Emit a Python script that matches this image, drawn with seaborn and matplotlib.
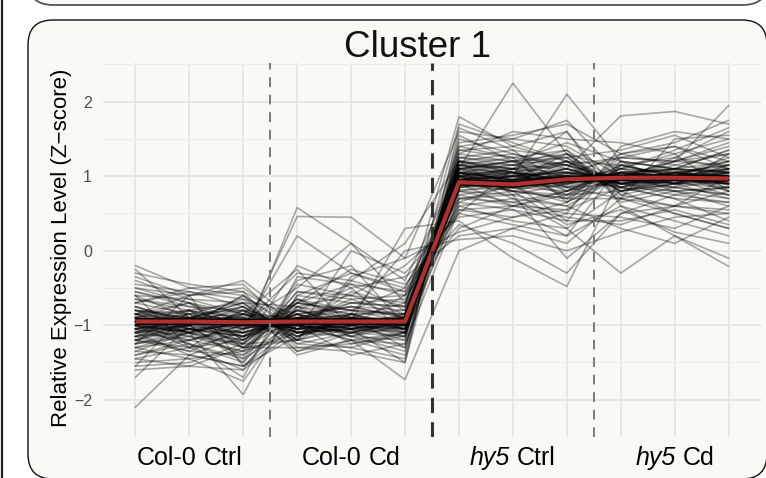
import numpy as np
import pandas as pd
import matplotlib
matplotlib.use("Agg")
import matplotlib.pyplot as plt
import seaborn as sns
from matplotlib.patches import FancyBboxPatch
from matplotlib.transforms import IdentityTransform
from matplotlib.lines import Line2D

# ---- data -------------------------------------------------------------
samples = ["Col-0 Ctrl 1", "Col-0 Ctrl 2", "Col-0 Ctrl 3",
           "Col-0 Cd 1", "Col-0 Cd 2", "Col-0 Cd 3",
           "hy5 Ctrl 1", "hy5 Ctrl 2", "hy5 Ctrl 3",
           "hy5 Cd 1", "hy5 Cd 2", "hy5 Cd 3"]
group_genotypes = ["Col-0", "Col-0", "hy5", "hy5"]
group_treatments = ["Ctrl", "Cd", "Ctrl", "Cd"]
italic_genotypes = ["hy5"]
group_label_pos = [1, 4, 7, 10]
group_breaks = [2.5, 5.5, 8.5]

# z-scored expression of the genes in cluster 1 (one row per gene)
gene_z = [
    [-2.10, -1.40, -1.55, -1.00, -1.20, -1.10, 0.95, 0.80, 0.70, 1.05, 1.10, 0.90],
    [-0.20, -0.50, -0.45, -1.10, -0.90, -1.30, 1.20, 1.05, 0.95, 0.85, 1.00, 1.25],
    [-0.35, -0.60, -0.40, -0.95, -0.70, -0.75, 1.80, 1.40, 1.20, 0.90, 0.80, 0.60],
    [-0.55, -0.70, -1.20, 0.58, 0.10, -0.40, 1.10, 2.25, 1.30, 0.85, 0.70, 0.40],
    [-1.00, -1.10, -1.93, -0.60, -0.30, -0.50, 0.90, 1.00, 2.10, 1.20, 0.90, 0.70],
    [-1.20, -1.30, -1.10, 0.46, 0.45, -0.10, 1.60, 1.50, 1.40, 1.00, 1.20, 1.95],
    [-0.80, -0.90, -0.75, -1.40, -1.20, -1.73, 0.00, 0.30, 0.50, 1.40, 1.60, 1.50],
    [-1.60, -1.55, -1.30, -0.90, -0.95, 0.30, 0.40, -0.10, -0.48, 1.00, 0.85, 1.30],
    [-1.10, -1.00, -1.45, -0.40, -0.20, -1.00, 1.00, 0.95, 1.10, 1.81, 1.87, 1.70],
    [-0.70, -0.85, -1.30, -0.80, -0.50, -1.10, 0.60, 0.70, 0.30, -0.30, 0.20, -0.21],
    [-0.90, -1.00, -0.85, -1.05, -0.95, -1.00, 0.95, 0.90, 1.00, 1.00, 0.95, 1.00],
    [-1.05, -0.95, -1.10, -0.90, -1.00, -0.95, 0.90, 0.85, 0.95, 0.98, 1.00, 0.95],
    [-0.85, -0.80, -1.00, -0.95, -0.85, -1.05, 1.05, 1.00, 0.90, 1.05, 1.10, 1.05],
    [-1.15, -1.05, -1.20, -0.80, -0.90, -0.95, 0.85, 0.95, 1.10, 0.90, 0.95, 0.90],
    [-0.75, -0.95, -0.90, -1.10, -1.05, -1.00, 1.15, 1.10, 1.05, 0.95, 0.90, 1.10],
    [-1.25, -1.10, -0.95, -1.00, -1.10, -1.05, 0.80, 0.75, 0.90, 1.05, 1.00, 0.85],
    [-0.95, -0.85, -0.80, -1.15, -0.90, -0.90, 1.10, 0.90, 1.20, 0.95, 1.05, 1.15],
    [-1.00, -1.20, -1.35, -0.70, -0.80, -0.95, 0.70, 0.80, 0.75, 1.10, 1.05, 0.80],
    [-0.65, -0.75, -0.95, -1.00, -1.10, -1.15, 1.25, 1.15, 1.00, 0.90, 1.00, 1.20],
    [-1.30, -1.20, -1.05, -0.85, -0.75, -0.90, 0.95, 1.05, 1.15, 0.95, 0.85, 0.75],
    [-0.80, -1.05, -1.15, -0.85, -1.00, -1.10, 1.00, 1.10, 0.85, 1.00, 1.15, 1.30],
    [-1.10, -0.90, -0.70, -1.20, -1.05, -0.85, 0.75, 0.60, 0.55, 1.15, 1.25, 1.10],
    [-0.90, -0.70, -0.85, -0.95, -1.15, -1.20, 1.30, 1.20, 1.25, 0.85, 0.70, 0.65],
    [-1.40, -1.25, -1.50, -0.75, -0.85, -0.80, 1.05, 0.95, 1.30, 0.80, 0.95, 1.05],
    [-0.60, -0.65, -0.70, -1.25, -1.30, -1.10, 0.65, 0.55, 0.40, 1.20, 1.10, 1.35],
    [-1.20, -0.95, -1.00, -0.90, -0.70, -0.75, 1.20, 1.30, 1.15, 0.95, 1.05, 0.95],
    [-0.95, -1.15, -1.25, -0.65, -0.95, -1.00, 0.90, 1.05, 0.95, 1.10, 0.90, 0.85],
    [-1.05, -0.80, -0.90, -1.05, -0.85, -0.85, 1.00, 0.70, 0.60, 1.00, 1.20, 1.40],
    [-0.85, -1.10, -1.40, -0.55, -0.60, -0.70, 1.40, 1.25, 1.35, 0.90, 1.00, 0.80],
    [-1.35, -1.40, -1.15, -1.00, -1.20, -1.25, 0.55, 0.45, 0.65, 1.05, 0.80, 0.70],
    [-0.50, -0.60, -0.55, -1.30, -1.25, -1.15, 1.35, 1.40, 1.60, 0.75, 0.60, 0.50],
    [-1.15, -1.00, -0.60, -1.35, -1.10, -0.90, 0.85, 1.00, 1.05, 1.25, 1.40, 1.20],
    [-0.70, -0.55, -0.75, -1.10, -0.95, -1.00, 1.10, 1.20, 0.80, 0.95, 1.25, 1.60],
    [-1.00, -1.30, -1.60, -0.60, -0.70, -0.65, 0.50, 0.35, 0.20, 1.15, 1.00, 0.95],
    [-1.25, -1.05, -0.85, -1.05, -1.10, -1.30, 1.05, 0.80, 0.70, 0.70, 0.50, 0.30],
    [-0.95, -0.90, -1.05, -0.90, -0.75, -0.80, 0.95, 1.00, 1.05, 1.00, 0.95, 0.90],
    [-1.05, -1.00, -0.95, -1.00, -1.05, -1.00, 0.90, 0.95, 0.95, 0.97, 1.00, 1.00],
    [-0.90, -0.95, -1.00, -1.00, -0.95, -1.10, 1.00, 0.90, 1.00, 0.95, 0.95, 1.05],
    [-1.00, -0.90, -0.90, -1.05, -1.00, -0.90, 0.85, 0.90, 1.05, 1.00, 1.05, 0.95],
    [-0.80, -0.85, -1.10, -0.95, -1.05, -0.95, 1.05, 0.85, 0.90, 1.05, 0.90, 1.00],
    [-1.10, -1.20, -1.00, -0.30, -0.40, -0.60, 0.60, 0.40, 0.30, 0.80, 0.50, 0.30],
    [-0.90, -0.80, -1.25, -0.20, -0.50, -0.35, 0.20, 0.30, 0.10, 0.70, 0.60, 0.80],
    [-1.30, -1.10, -0.95, -0.50, 0.10, -0.70, 0.90, 0.60, 0.45, 0.35, 0.60, 0.55],
    [-0.75, -1.00, -1.50, -0.45, -0.60, -0.20, 0.45, 0.55, 0.20, 0.60, 0.40, 0.20],
    [-1.20, -1.35, -1.05, 0.20, -0.30, -0.55, 0.70, 0.75, 0.60, 0.30, 0.10, 0.45],
    [-0.60, -0.90, -1.15, -0.70, -0.25, -0.45, 0.35, 0.10, -0.30, 0.50, 0.75, 0.65],
    [-1.45, -1.30, -1.20, -0.65, -0.80, -0.50, 0.80, 0.65, 0.50, 0.45, 0.30, 0.60],
    [-1.05, -1.25, -1.70, -0.35, -0.45, -0.80, 1.00, 0.80, 0.35, 0.55, 0.25, 0.10],
    [-0.85, -0.70, -0.95, -1.20, -0.35, -0.10, 0.25, 0.45, 0.55, 0.85, 0.95, 0.75],
    [-1.50, -1.45, -1.35, -0.55, -0.65, -0.90, 0.65, 0.90, 0.40, 0.40, 0.55, 0.35],
    [-1.55, -1.50, -1.25, -1.20, -1.30, -1.45, 1.50, 1.30, 1.10, 0.95, 1.20, 1.45],
    [-1.30, -1.45, -1.75, -0.75, -1.15, -1.35, 1.45, 1.55, 1.70, 1.30, 1.40, 1.10],
    [-1.20, -1.05, -1.30, -1.30, -1.35, -1.50, 1.25, 1.35, 1.25, 1.35, 1.55, 1.25],
    [-1.40, -1.20, -1.00, -1.15, -1.00, -1.20, 1.55, 1.20, 1.45, 1.20, 1.10, 1.35],
    [-1.10, -1.40, -1.55, -0.85, -1.25, -1.10, 1.30, 1.60, 1.50, 1.45, 1.30, 1.50],
    [-0.95, -1.25, -1.45, -1.00, -1.40, -1.25, 1.15, 1.10, 1.30, 1.10, 1.35, 1.65],
    [-1.25, -1.15, -1.35, -1.10, -1.15, -1.00, 1.70, 1.45, 1.20, 1.15, 1.00, 1.20],
    [-1.35, -1.10, -0.80, -1.35, -1.20, -1.40, 1.40, 1.50, 1.75, 1.00, 0.95, 1.15],
    [-1.15, -1.35, -1.40, -0.95, -1.05, -1.15, 1.20, 1.05, 1.00, 1.30, 1.45, 1.75],
    [-1.45, -1.55, -1.60, -1.05, -0.95, -1.15, 1.35, 1.25, 1.15, 1.25, 1.20, 1.30],
    [-0.45, -0.55, -0.65, -0.85, -0.75, -0.90, 0.95, 0.85, 0.80, 1.05, 1.00, 1.10],
    [-0.55, -0.75, -0.80, -0.95, -0.65, -0.60, 0.80, 0.90, 0.85, 0.90, 0.85, 0.75],
    [-0.40, -0.65, -0.85, -0.90, -0.80, -0.85, 1.05, 0.95, 1.00, 0.85, 0.80, 0.85],
    [-0.70, -0.50, -0.60, -1.05, -0.55, -0.75, 0.75, 0.85, 0.65, 1.00, 1.10, 1.00],
    [-0.65, -0.80, -0.70, -0.75, -0.60, -0.85, 1.00, 0.95, 0.75, 0.80, 0.90, 0.95],
    [-0.30, -0.45, -0.55, -0.95, -0.85, -1.00, 0.70, 0.65, 0.80, 1.15, 1.00, 0.90],
    [-0.85, -0.60, -0.50, -1.00, -0.90, -0.70, 0.90, 0.80, 0.95, 0.90, 0.75, 0.85],
    [-0.50, -0.70, -1.05, -0.70, -0.45, -0.55, 0.55, 0.60, 0.75, 0.95, 1.05, 1.15],
    [-0.95, -1.00, -0.95, -0.95, -1.00, -0.95, 0.95, 0.92, 0.98, 1.00, 0.98, 0.97],
    [-1.00, -0.95, -1.05, -0.90, -0.95, -1.00, 0.90, 0.88, 0.95, 0.98, 1.02, 0.95],
    [-0.90, -1.05, -1.00, -1.00, -0.90, -1.00, 0.98, 0.90, 0.92, 1.00, 1.00, 1.02],
    [-1.05, -0.90, -0.95, -1.05, -1.00, -0.90, 0.92, 0.95, 1.00, 0.96, 0.95, 1.00],
    [-0.98, -1.02, -1.10, -0.85, -0.98, -0.95, 1.00, 0.92, 0.90, 1.02, 0.99, 0.94],
    [-0.92, -0.98, -0.88, -1.05, -1.02, -1.05, 0.88, 0.94, 1.02, 0.95, 1.04, 0.98],
    [-1.08, -1.00, -0.92, -0.98, -0.92, -0.98, 1.02, 0.98, 0.96, 0.94, 0.92, 1.04],
    [-0.88, -0.92, -1.02, -1.00, -1.08, -1.02, 0.96, 1.00, 0.94, 1.04, 0.96, 0.92],
    [-1.02, -1.08, -0.98, -0.92, -0.96, -0.92, 0.86, 0.86, 1.04, 0.98, 1.02, 1.00],
    [-0.96, -0.94, -1.04, -0.96, -1.04, -0.96, 1.04, 0.96, 0.98, 0.92, 0.98, 0.96],
    [-1.10, -1.05, -1.15, -0.90, -0.88, -1.05, 1.08, 1.02, 1.05, 0.90, 0.92, 1.08],
    [-0.85, -0.90, -0.92, -1.10, -1.05, -0.88, 0.82, 0.84, 0.88, 1.06, 1.08, 0.88],
    [-1.55, -0.80, -1.00, -0.80, -1.00, -0.60, 0.30, 0.60, 0.80, 1.10, 1.30, 0.80],
    [-0.25, -0.90, -1.30, -1.20, -0.40, 0.10, 1.20, 0.75, -0.10, 0.50, 0.60, 1.00],
    [-1.70, -1.00, -0.60, -1.10, 0.00, -0.30, 0.50, 1.10, 1.60, 0.60, 0.20, -0.10],
    [-0.60, -1.30, -0.85, -0.25, -1.05, -1.50, 1.65, 1.35, 0.85, 0.70, 1.50, 1.55],
    [-1.25, -0.60, -1.55, -1.15, -0.85, 0.00, 0.15, 0.20, 0.00, 0.25, 0.45, 0.50],
    [-0.80, -0.90, -0.70, -1.20, -1.00, -0.95, 1.20, 1.15, 1.25, 0.75, 0.90, 1.05],
    [-1.15, -1.10, -1.25, -0.70, -0.85, -1.00, 1.10, 1.20, 1.30, 0.70, 0.85, 0.95],
    [-1.00, -0.85, -0.65, -1.25, -1.10, -0.95, 1.25, 1.20, 1.15, 0.80, 1.00, 1.10],
    [-0.90, -1.10, -1.30, -0.65, -0.90, -1.05, 1.15, 1.05, 1.20, 0.80, 0.95, 0.90],
    [-1.20, -1.00, -0.75, -1.15, -0.95, -0.90, 1.05, 1.15, 1.35, 0.65, 0.80, 0.85],
    [-0.75, -0.95, -1.25, -0.70, -0.80, -0.85, 1.20, 1.10, 0.70, 1.25, 1.20, 1.15],
    [-1.05, -1.15, -0.80, -1.10, -1.00, -1.05, 1.10, 1.05, 0.75, 1.20, 1.10, 1.20],
    [-0.95, -0.80, -1.20, -0.75, -0.95, -0.90, 1.15, 1.25, 0.65, 1.30, 1.15, 1.05],
    [-1.10, -1.00, -0.85, -1.10, -1.05, -1.10, 1.05, 1.00, 1.20, 0.80, 0.90, 0.95],
    [-0.85, -1.05, -1.15, -0.80, -1.00, -0.85, 1.10, 1.15, 1.10, 0.85, 1.05, 1.00],
    [-1.00, -1.10, -0.90, -1.05, -0.90, -1.00, 1.00, 1.10, 1.15, 0.90, 0.95, 1.10],
    [-0.90, -0.95, -1.15, -0.85, -1.05, -0.95, 1.05, 1.05, 0.85, 1.10, 1.05, 1.00],
    [-1.15, -0.90, -0.75, -1.20, -0.85, -1.10, 1.15, 1.00, 1.10, 0.90, 1.00, 0.90],
    [-0.80, -1.00, -1.10, -0.85, -1.15, -0.90, 0.95, 1.10, 1.20, 0.85, 1.10, 1.05],
    [-1.05, -0.95, -0.80, -1.15, -0.90, -1.00, 1.10, 1.20, 1.05, 0.95, 0.90, 1.15],
    [-0.95, -1.10, -1.20, -0.80, -0.95, -1.05, 1.00, 1.05, 0.80, 1.15, 1.00, 0.95],
    [-1.10, -0.85, -0.95, -1.00, -1.10, -0.95, 1.20, 1.10, 1.00, 1.00, 1.10, 1.05],
    [-0.85, -0.95, -1.00, -0.95, -0.90, -1.05, 1.05, 0.95, 1.10, 0.90, 1.05, 1.10],
    [-1.00, -1.05, -1.10, -0.90, -1.00, -0.90, 0.95, 1.00, 1.00, 1.00, 0.90, 0.90],
    [-0.95, -0.90, -0.85, -1.10, -0.95, -1.00, 1.10, 1.05, 0.95, 1.05, 1.00, 1.05],
]

# cluster centroid (mean profile)
centroid_z = [-0.95, -0.95, -0.96, -0.95, -0.95, -0.95,
              0.92, 0.89, 0.96, 0.98, 0.98, 0.97]

yticks = [-2, -1, 0, 1, 2]

# ---- tidy frames ------------------------------------------------------
long_df = pd.DataFrame(
    [(g, i, v) for g, row in enumerate(gene_z) for i, v in enumerate(row)],
    columns=["gene", "pos", "z"],
)
mean_df = pd.DataFrame({"pos": np.arange(len(samples)), "z": centroid_z})

# ---- style ------------------------------------------------------------
sns.set_theme(style="whitegrid")
plt.rcParams["font.family"] = ["Liberation Sans", "DejaVu Sans"]
plt.rcParams["axes.unicode_minus"] = True

W, H = 766, 478
panel_bg = "#FAF9F5"
fig = plt.figure(figsize=(W / 100, H / 100), dpi=100, facecolor="white")
px = IdentityTransform()

# neighbouring panel above (only its lower edge is visible)
fig.patches.append(FancyBboxPatch((28, H - 5), 740, 200,
                                  boxstyle="round,pad=0,rounding_size=25",
                                  transform=px, figure=fig,
                                  facecolor=panel_bg, edgecolor="#555555",
                                  linewidth=1.3, zorder=-2))
# panel frame of this cluster
fig.patches.append(FancyBboxPatch((28, H - 479), 739, 459,
                                  boxstyle="round,pad=0,rounding_size=25",
                                  transform=px, figure=fig,
                                  facecolor=panel_bg, edgecolor="#111111",
                                  linewidth=1.0, zorder=-2))
# rule at the left border
fig.lines.append(Line2D([2.0, 2.0], [0, H], transform=px,
                        color="#222222", linewidth=1.6, figure=fig,
                        zorder=-2))

ax = fig.add_axes([103 / W, 1 - 437 / H, 658 / W, 374 / H])
ax.set_facecolor(panel_bg)

# individual genes
sns.lineplot(data=long_df, x="pos", y="z", units="gene", estimator=None,
             color="black", alpha=0.33, linewidth=1.2, ax=ax, zorder=2,
             legend=False)
# centroid: black casing + red line
sns.lineplot(data=mean_df, x="pos", y="z", color="black", linewidth=4.8,
             solid_capstyle="butt", ax=ax, zorder=3, legend=False)
sns.lineplot(data=mean_df, x="pos", y="z", color="#B0302D", linewidth=3.0,
             solid_capstyle="butt", ax=ax, zorder=4, legend=False)

# group separators
ax.axvline(group_breaks[0], color="#7A7A7A", linewidth=1.4,
           dashes=(5, 4), zorder=5)
ax.axvline(group_breaks[1], color="#333333", linewidth=2.2,
           dashes=(5, 3), zorder=5)
ax.axvline(group_breaks[2], color="#7A7A7A", linewidth=1.4,
           dashes=(5, 4), zorder=5)

ax.set_xlim(-0.6, len(samples) - 1 + 0.6)
ax.set_ylim(-2.5, 2.52)

ax.set_xticks(np.arange(len(samples)))
ax.set_xticklabels([""] * len(samples))
ax.set_yticks(yticks)
ax.set_yticklabels([f"{t}".replace("-", "\u2212") for t in yticks],
                   fontsize=11.5, color="#4D4D4D")
ax.set_yticks(np.arange(-2.5, 2.6, 1.0), minor=True)
ax.tick_params(axis="both", which="both", length=0)
ax.tick_params(axis="y", pad=8)

ax.grid(which="major", color="#E6E6E6", linewidth=1.3)
ax.grid(which="minor", axis="y", color="#EDEDED", linewidth=0.8)
ax.set_axisbelow(True)
for s in ax.spines.values():
    s.set_visible(False)
ax.set_xlabel("")
ax.set_ylabel("")

# group labels under the axis, genotype set in italics where needed
fs = 18
renderer = fig.canvas.get_renderer()
space_px = 0.278 * fs * 100 / 72
baseline = H - 465
for pos, geno, treat in zip(group_label_pos, group_genotypes, group_treatments):
    parts = [(geno, "italic" if geno in italic_genotypes else "normal"),
             (treat, "normal")]
    widths = []
    for txt, st in parts:
        tmp = fig.text(0, 0, txt, fontsize=fs, style=st)
        widths.append(tmp.get_window_extent(renderer).width)
        tmp.remove()
    total = sum(widths) + space_px
    x = ax.transData.transform((pos, 0))[0] - total / 2
    for (txt, st), w in zip(parts, widths):
        fig.text(x, baseline, txt, transform=px, ha="left", va="baseline",
                 fontsize=fs, style=st, color="black")
        x += w + space_px

fig.text(62 / W, 1 - 248 / H, "Relative Expression Level (Z\u2212score)",
         rotation=90, ha="center", va="center", fontsize=16, color="black")
fig.text(417 / W, 1 - 57 / H, "Cluster 1", ha="center", va="baseline",
         fontsize=26.5, color="#111111")

fig.savefig("out.png", dpi=100, facecolor="white")
